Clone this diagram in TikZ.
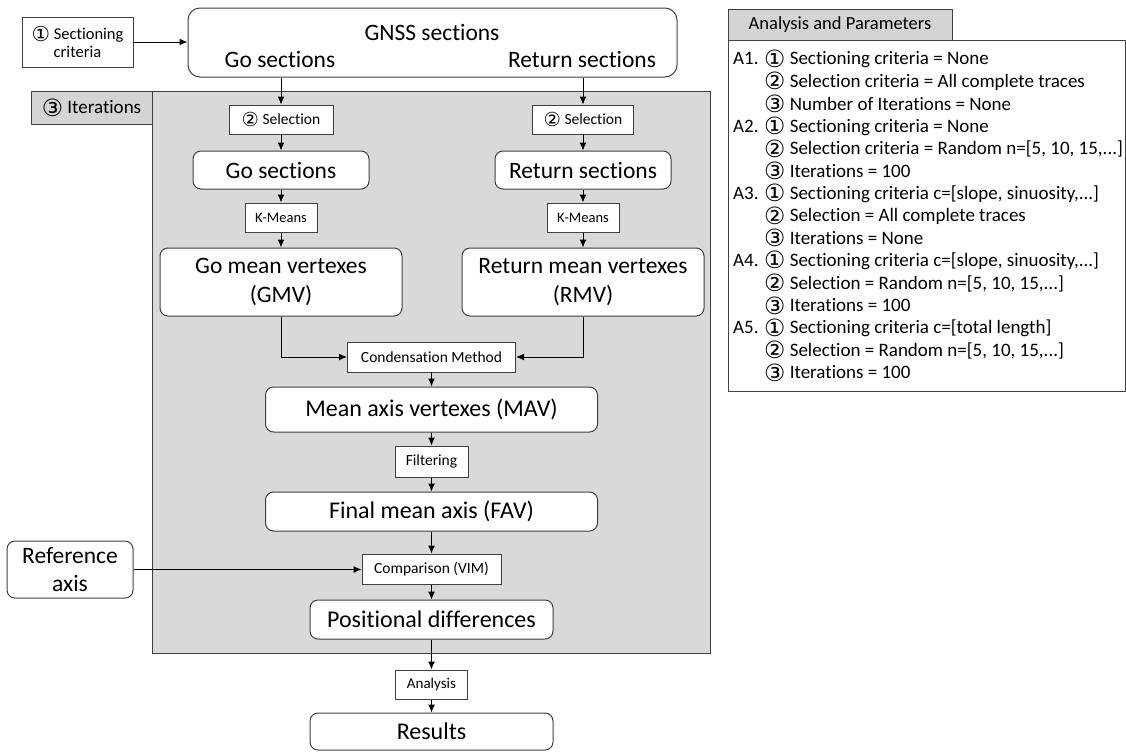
\documentclass[tikz,border=0pt]{standalone}
\usepackage{fontspec}
\setmainfont{Carlito}[Ligatures=NoCommon]
\newfontfamily\circfont{DejaVu Sans}
\usetikzlibrary{arrows.meta}
\newcommand{\cOne}{{\circfont\raisebox{-0.12em}{\scalebox{1.25}{①}}}}
\newcommand{\cTwo}{{\circfont\raisebox{-0.12em}{\scalebox{1.25}{②}}}}
\newcommand{\cThree}{{\circfont\raisebox{-0.12em}{\scalebox{1.25}{③}}}}
\definecolor{linec}{HTML}{404040}
\definecolor{shade}{HTML}{D9D9D9}
\definecolor{tabc}{HTML}{D4D4D4}
\newcommand{\fs}[1]{\fontsize{#1}{#1}\selectfont}
\newcommand{\pindent}[1]{\makebox[31pt][l]{#1}}
\begin{document}
\begin{tikzpicture}[x=1pt,y=-1pt,
  sbox/.style={draw=linec, fill=white, line width=1.0pt, inner sep=0pt, align=center, font=\fs{15.5}},
  rbox/.style={sbox, rounded corners=8pt, font=\fs{23.5}},
  tabbox/.style={draw=linec, fill=tabc, line width=1.0pt, inner sep=0pt},
  arr/.style={draw=black, line width=1.0pt, -{Latex[length=8pt,width=7pt]}},
  ptext/.style={anchor=west, inner sep=0pt, font=\fs{19}},
]
\useasboundingbox (0,0) rectangle (1126,753);

% shaded iterations region
\node[draw=linec, fill=shade, line width=1.0pt, minimum width=558pt, minimum height=562pt, inner sep=0pt] (iterarea) at (431,372) {};
\node[tabbox, minimum width=121pt, minimum height=33pt, font=\fs{19}] (itertab) at (91.5,107.5) {\cThree\ Iterations};

% top
\node[sbox, minimum width=111pt, minimum height=50pt, font=\fs{16.5}] (sc) at (77.5,42) {\cOne\ Sectioning\\[2pt]criteria};
\node[sbox, rounded corners=12pt, minimum width=489pt, minimum height=69pt] (gnss) at (432.5,42.5) {};
\node[inner sep=0pt, font=\fs{23.5}] (gnsst) at (432,32) {GNSS sections};
\node[inner sep=0pt, font=\fs{23.5}] (gnssgo) at (280,59) {Go sections};
\node[inner sep=0pt, font=\fs{23.5}] (gnssret) at (582,59) {Return sections};

% go branch
\node[sbox, minimum width=104pt, minimum height=29pt] (selgo) at (281,119.5) {\cTwo\ Selection};
\node[rbox, minimum width=176pt, minimum height=38pt] (gosec) at (281,170) {Go sections};
\node[sbox, minimum width=72pt, minimum height=29pt, font=\fs{14.5}] (kmgo) at (281,217.5) {K-Means};
\node[rbox, minimum width=242pt, minimum height=68pt] (gmv) at (281,282) {Go mean vertexes\\[6pt](GMV)};

% return branch
\node[sbox, minimum width=101pt, minimum height=29pt] (selret) at (583,119.5) {\cTwo\ Selection};
\node[rbox, minimum width=176pt, minimum height=38pt] (retsec) at (583,170) {Return sections};
\node[sbox, minimum width=72pt, minimum height=29pt, font=\fs{14.5}] (kmret) at (583,217.5) {K-Means};
\node[rbox, minimum width=242pt, minimum height=68pt] (rmv) at (583,282) {Return mean vertexes\\[6pt](RMV)};

% central chain
\node[sbox, minimum width=168pt, minimum height=30pt] (cond) at (431.5,357) {Condensation Method};
\node[rbox, minimum width=332pt, minimum height=45pt, font=\fs{24}] (mav) at (431.5,409.5) {Mean axis vertexes (MAV)};
\node[sbox, minimum width=73pt, minimum height=31pt] (filt) at (431.5,461.5) {Filtering};
\node[rbox, minimum width=332pt, minimum height=39pt, font=\fs{24}] (fav) at (431.5,511.5) {Final mean axis (FAV)};
\node[sbox, minimum width=139pt, minimum height=30pt] (comp) at (431.5,569) {Comparison (VIM)};
\node[rbox, minimum width=126pt, minimum height=57pt] (ref) at (70,569.5) {Reference\\[4pt]axis};
\node[rbox, minimum width=243pt, minimum height=39pt, font=\fs{24}] (pos) at (431.5,619.5) {Positional differences};
\node[sbox, minimum width=72pt, minimum height=29pt, font=\fs{15}] (ana) at (431.5,684.5) {Analysis};
\node[rbox, minimum width=243pt, minimum height=37pt, font=\fs{24}] (res) at (431.5,731.5) {Results};

% connectors
\draw[arr] (sc.east) -- (sc.east -| gnss.west);
\draw[arr] (selgo.north |- gnss.south) -- (selgo.north);
\draw[arr] (selret.north |- gnss.south) -- (selret.north);
\draw[arr] (selgo) -- (gosec);
\draw[arr] (gosec) -- (kmgo);
\draw[arr] (kmgo) -- (gmv);
\draw[arr] (selret) -- (retsec);
\draw[arr] (retsec) -- (kmret);
\draw[arr] (kmret) -- (rmv);
\draw[arr] (gmv.south) |- (cond.west);
\draw[arr] (rmv.south) |- (cond.east);
\draw[arr] (cond) -- (mav);
\draw[arr] (mav) -- (filt);
\draw[arr] (filt) -- (fav);
\draw[arr] (fav) -- (comp);
\draw[arr] (ref.east) -- (ref.east -| comp.west);
\draw[arr] (comp) -- (pos);
\draw[arr] (pos) -- (ana);
\draw[arr] (ana) -- (res);

% parameters panel
\node[draw=linec, line width=1.0pt, minimum width=397pt, minimum height=351pt, inner sep=0pt] (panel) at (926.5,215.5) {};
\node[tabbox, minimum width=224pt, minimum height=31pt, font=\fs{18.5}] (ptab) at (840,24.5) {Analysis and Parameters};
\node[ptext] (l1) at (733,59) {\pindent{A1.}\cOne\ Sectioning criteria = None};
\node[ptext] (l2) at (733,81.4) {\pindent{}\cTwo\ Selection criteria = All complete traces};
\node[ptext] (l3) at (733,103.8) {\pindent{}\cThree\ Number of Iterations = None};
\node[ptext] (l4) at (733,126.2) {\pindent{A2.}\cOne\ Sectioning criteria = None};
\node[ptext] (l5) at (733,148.6) {\pindent{}\cTwo\ Selection criteria = Random n=[5, 10, 15,...]};
\node[ptext] (l6) at (733,171) {\pindent{}\cThree\ Iterations = 100};
\node[ptext] (l7) at (733,193.4) {\pindent{A3.}\cOne\ Sectioning criteria c=[slope, sinuosity,...]};
\node[ptext] (l8) at (733,215.8) {\pindent{}\cTwo\ Selection = All complete traces};
\node[ptext] (l9) at (733,238.2) {\pindent{}\cThree\ Iterations = None};
\node[ptext] (l10) at (733,260.6) {\pindent{A4.}\cOne\ Sectioning criteria c=[slope, sinuosity,...]};
\node[ptext] (l11) at (733,283) {\pindent{}\cTwo\ Selection = Random n=[5, 10, 15,...]};
\node[ptext] (l12) at (733,305.4) {\pindent{}\cThree\ Iterations = 100};
\node[ptext] (l13) at (733,327.8) {\pindent{A5.}\cOne\ Sectioning criteria c=[total length]};
\node[ptext] (l14) at (733,350.2) {\pindent{}\cTwo\ Selection = Random n=[5, 10, 15,...]};
\node[ptext] (l15) at (733,372.6) {\pindent{}\cThree\ Iterations = 100};
\end{tikzpicture}
\end{document}
